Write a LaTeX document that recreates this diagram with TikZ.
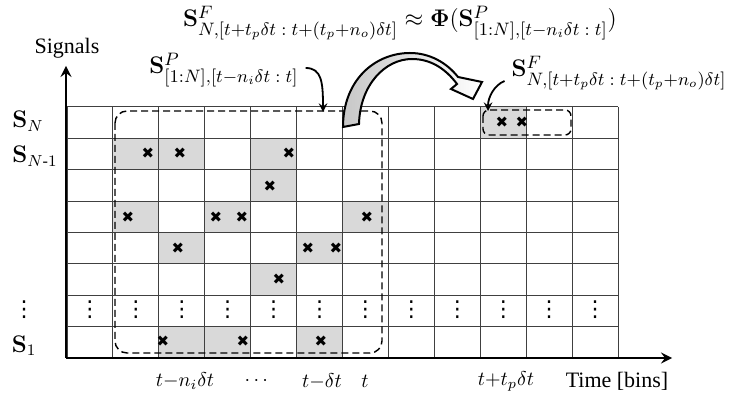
\documentclass[tikz,border=0pt]{standalone}
\usepackage{amsmath}
\usepackage[no-math]{fontspec}
\setmainfont{Liberation Serif}
\newfontfamily\simboli{DejaVu Sans}

\begin{document}
\begin{tikzpicture}[x=0.5pt, y=-0.5pt, >=stealth, font=\fontsize{11}{13}\selectfont]
	\tikzset{griglia/.style={draw=black!75, line width=0.5pt},
		cella/.style={fill=black!15},
		asse/.style={->, line width=1.4pt},
		croce/.style={inner sep=0pt, font=\simboli\fontsize{7.5}{8}\selectfont},
		punti/.style={inner sep=0pt, font=\simboli\fontsize{11}{12}\selectfont},
		formula/.style={font=\fontsize{12.7}{15}\selectfont},
		tick/.style={font=\fontsize{10}{12}\selectfont},
		riquadro/.style={dashed, dash pattern=on 3.5pt off 2pt, line width=0.7pt},
		freccia/.style={->, line width=0.9pt}}
	\useasboundingbox (0,0) rectangle (737,394);
	
	% celle grigie: colonna/riga
	\foreach \c/\r in {10/1, 2/2, 3/2, 5/2, 5/3, 2/4, 4/4, 7/4, 3/5, 6/5, 5/6, 3/8, 4/8, 6/8}
		\fill[cella] ({67+(\c-1)*45.92},{107+(\r-1)*31.375}) rectangle ++(45.92,31.375);
	
	\foreach \i in {0,...,12}
		\draw[griglia] ({67+\i*45.92},107) -- ({67+\i*45.92},358);
	\foreach \j in {0,...,7}
		\draw[griglia] (67,{107+\j*31.375}) -- (618,{107+\j*31.375});
	
	\foreach \i in {1,...,12}
		\node[punti] (v\i) at ({67+(\i-0.5)*45.92},310) {⋮};
	
	\foreach \x/\y [count=\k] in {502/122, 522/122, 148/153, 180/153, 289/153, 270/186,
			128/217, 216/217, 242/217, 367/217, 178/248, 308/248, 336/248, 279/279,
			163/341, 243/341, 321/341}
		\node[croce] (x\k) at (\x,\y) {✖};
	
	\coordinate (O) at (66,358);
	\coordinate (Ymax) at (66,66);
	\coordinate (Xmax) at (672,358);
	\draw[asse] (O) -- (Ymax);
	\draw[asse] (O) -- (Xmax);
	
	\draw[riquadro, rounded corners=6pt] (115,111) rectangle (382,353);
	\draw[riquadro, rounded corners=3pt] (483,110) rectangle (571,135);
	
	\node (segnali) at (67,48) {Signals};
	\node (tempo) at (617,381) {Time [bins]};
	
	\node[anchor=base, font=\fontsize{11.5}{13}\selectfont] (sN) at (28,128) {$\mathbf{S}_N$};
	\node[anchor=base, font=\fontsize{11.5}{13}\selectfont] (sN1) at (35,163) {$\mathbf{S}_{N\text{-}1}$};
	\node[punti] (sdots) at (24,310) {⋮};
	\node[anchor=base, font=\fontsize{11.5}{13}\selectfont] (s1) at (24,352) {$\mathbf{S}_1$};
	
	\node[tick] (t1) at (185,381) {$t{-}n_i\delta t$};
	\node[tick] (t2) at (258,381) {$\cdots$};
	\node[tick] (t3) at (322,381) {$t{-}\delta t$};
	\node[tick] (t4) at (365,381) {$t$};
	\node[tick] (t5) at (506,381) {$t{+}t_p\delta t$};
	
	\node[formula] (eq) at (400,23) {$\mathbf{S}^F_{N,[t+t_p\delta t\;:\;t+(t_p+n_o)\delta t]} \approx \mathbf{\Phi}(\mathbf{S}^P_{[1:N],[t-n_i\delta t\;:\;t]})$};
	\node[formula] (etP) at (224,70) {$\mathbf{S}^P_{[1:N],[t-n_i\delta t\;:\;t]}$};
	\node[formula] (etF) at (619,73) {$\mathbf{S}^F_{N,[t+t_p\delta t\;:\;t+(t_p+n_o)\delta t]}$};
	
	\coordinate (pP) at (323,112);
	\coordinate (pF) at (488,111);
	\draw[freccia] ([yshift=1pt]etP.east) .. controls +(16,0) and +(0,-30) .. (pP);
	\draw[freccia] ([yshift=-4pt]etF.west) .. controls +(-10,4) and +(0,-14) .. (pF);
	
	% freccia curva grande
	\draw[line width=1pt, left color=black!22, right color=white]
		(343,127) .. controls (343,80) and (375,53) .. (410,53)
		.. controls (430,53) and (447,63) .. (458,77) -- (482,82) -- (473,99) -- (451,89) -- (457,84)
		.. controls (445,68) and (430,59) .. (412,59)
		.. controls (385,59) and (360,85) .. (359,124) -- cycle;
\end{tikzpicture}
\end{document}
